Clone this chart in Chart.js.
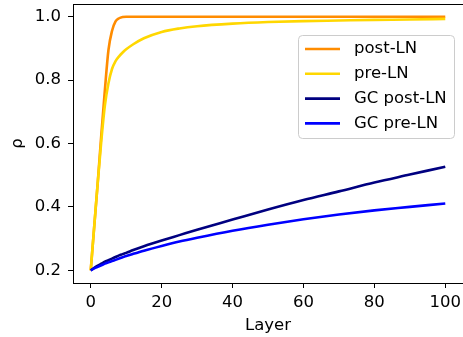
<!DOCTYPE html>
<html>
<head>
<meta charset="utf-8">
<script src="https://cdn.jsdelivr.net/npm/chart.js@4/dist/chart.umd.min.js"></script>
<style>
  html, body { margin: 0; padding: 0; background: #fff; }
  #wrap { width: 463px; height: 337px; }
</style>
</head>
<body>
<div id="wrap"><canvas id="rho"></canvas></div>
<script>
// values
var layers = [0, 1, 2, 3, 4, 5, 6, 7, 8, 9, 10, 12, 15, 20, 25, 30, 40, 50, 60, 70, 80, 90, 100];
var postLN = [0.2, 0.34, 0.48, 0.63, 0.77, 0.895, 0.955, 0.985, 0.995, 0.999, 1.0, 1.0, 1.0, 1.0, 1.0, 1.0, 1.0, 1.0, 1.0, 1.0, 1.0, 1.0, 1.0];
var preLN = [0.2, 0.34, 0.48, 0.61, 0.72, 0.79, 0.835, 0.86, 0.875, 0.887, 0.897, 0.913, 0.932, 0.952, 0.963, 0.970, 0.978, 0.983, 0.986, 0.988, 0.990, 0.991, 0.993];
var gcPostLN = [0.2, 0.208, 0.215, 0.221, 0.227, 0.232, 0.237, 0.242, 0.247, 0.251, 0.255, 0.264, 0.276, 0.294, 0.311, 0.328, 0.36, 0.392, 0.422, 0.449, 0.477, 0.502, 0.527];
var gcPreLN = [0.2, 0.206, 0.211, 0.216, 0.221, 0.225, 0.229, 0.233, 0.237, 0.241, 0.245, 0.252, 0.262, 0.277, 0.291, 0.303, 0.325, 0.344, 0.361, 0.376, 0.389, 0.400, 0.411];

var seriesNames = ['post-LN', 'pre-LN', 'GC post-LN', 'GC pre-LN'];
var seriesColors = ['#ff8c00', '#ffd700', '#000080', '#0000ff'];
var xTicks = [0, 20, 40, 60, 80, 100];
var yTicks = [0.2, 0.4, 0.6, 0.8, 1.0];

var FONT = 'DejaVu Sans';
var FSIZE = 16.5;
var LW = 2.6;

function pts(ys) {
    return layers.map(function (x, i) { return { x: x, y: ys[i] }; });
}

var allSeries = [postLN, preLN, gcPostLN, gcPreLN];
var datasets = allSeries.map(function (ys, i) {
    return {
        label: seriesNames[i],
        data: pts(ys),
        borderColor: seriesColors[i],
        backgroundColor: seriesColors[i],
        borderWidth: LW,
        pointRadius: 0,
        cubicInterpolationMode: 'monotone',
        fill: false,
        order: allSeries.length - i
    };
});

// top spine and a matplotlib style legend
var extras = {
    id: 'extras',
    afterDraw: function (chart) {
        var c = chart.ctx, a = chart.chartArea;
        c.save();
        c.strokeStyle = '#000';
        c.lineWidth = 1;
        c.beginPath();
        c.moveTo(a.left, a.top + 0.5);
        c.lineTo(a.right, a.top + 0.5);
        c.stroke();

        var bx = 298.5, by = 35.5, bw = 156, bh = 103, r = 4;
        c.beginPath();
        c.moveTo(bx + r, by);
        c.arcTo(bx + bw, by, bx + bw, by + bh, r);
        c.arcTo(bx + bw, by + bh, bx, by + bh, r);
        c.arcTo(bx, by + bh, bx, by, r);
        c.arcTo(bx, by, bx + bw, by, r);
        c.closePath();
        c.fillStyle = 'rgba(255,255,255,0.8)';
        c.fill();
        c.strokeStyle = '#cccccc';
        c.stroke();

        c.font = FSIZE + 'px "' + FONT + '"';
        c.textBaseline = 'middle';
        c.textAlign = 'left';
        seriesNames.forEach(function (name, i) {
            var y = 49 + i * 24.8;
            c.strokeStyle = seriesColors[i];
            c.lineWidth = LW;
            c.beginPath();
            c.moveTo(305, y);
            c.lineTo(340, y);
            c.stroke();
            c.fillStyle = '#000';
            c.fillText(name, 354, y);
        });
        c.restore();
    }
};

var ctx = document.getElementById('rho').getContext('2d');
var chart = new Chart(ctx, {
    type: 'line',
    data: { datasets: datasets },
    options: {
        responsive: true,
        maintainAspectRatio: false,
        animation: false,
        layout: { padding: { top: 4, right: 0, left: 0, bottom: 0 } },
        plugins: {
            legend: { display: false },
            tooltip: { enabled: false }
        },
        scales: {
            x: {
                type: 'linear',
                min: -5,
                max: 105,
                afterBuildTicks: function (s) { s.ticks = xTicks.map(function (v) { return { value: v }; }); },
                afterFit: function (s) { s.height = 54; s.paddingLeft = 0; s.paddingRight = 0; },
                grid: { display: true, drawOnChartArea: false, drawTicks: true, tickLength: 5, color: '#000' },
                border: { display: true, color: '#000', width: 1 },
                ticks: { color: '#000', padding: 5, maxRotation: 0, font: { family: FONT, size: FSIZE } },
                title: { display: true, text: 'Layer', color: '#000', font: { family: FONT, size: FSIZE }, padding: { top: 0, bottom: 1 } }
            },
            y: {
                min: 0.16,
                max: 1.04,
                afterBuildTicks: function (s) { s.ticks = yTicks.map(function (v) { return { value: v }; }); },
                afterFit: function (s) { s.width = 73; s.paddingTop = 0; s.paddingBottom = 0; },
                grid: { display: true, drawOnChartArea: false, drawTicks: true, tickLength: 5, color: '#000' },
                border: { display: true, color: '#000', width: 1 },
                ticks: {
                    color: '#000', padding: 7, font: { family: FONT, size: FSIZE },
                    callback: function (v) { return v.toFixed(1); }
                },
                title: { display: true, text: 'ρ', color: '#000', font: { family: FONT, size: FSIZE }, padding: { top: 8, bottom: 0 } }
            }
        }
    },
    plugins: [extras]
});
</script>
</body>
</html>
